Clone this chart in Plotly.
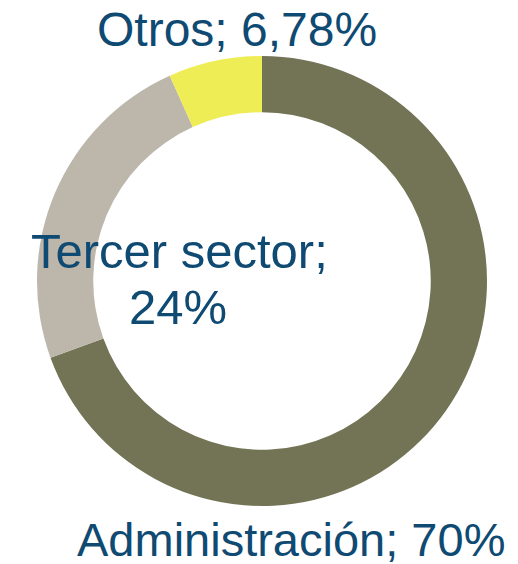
import plotly.graph_objects as go

categories = ["Administración", "Tercer sector", "Otros"]
values = [70, 24, 6.78]
value_labels = ["70%", "24%", "6,78%"]
colors = ["#727455", "#bdb6ab", "#efed55"]

# page has an 8px body margin; figure sized to fit the window exactly
OFF = 8
W, H = 518 - OFF, 564 - OFF
cx, cy, r = 262 - OFF, 281 - OFF, 225
text_color = "#0f4a72"
font_family = "Liberation Sans, Arial, sans-serif"

fig = go.Figure(go.Pie(
    labels=categories,
    values=values,
    hole=0.75,
    sort=False,
    direction="clockwise",
    rotation=0,
    textinfo="none",
    marker=dict(colors=colors, line=dict(width=0)),
    domain=dict(x=[(cx - r) / W, (cx + r) / W],
                y=[(H - cy - r) / H, (H - cy + r) / H]),
    showlegend=False,
    hoverinfo="label+percent",
))

def ann(text, x, y, size=48):
    return dict(text=text, x=(x - OFF) / W, y=1 - (y - OFF) / H,
                xref="paper", yref="paper",
                xanchor="center", yanchor="middle", showarrow=False,
                font=dict(size=size, color=text_color, family=font_family))

fig.update_layout(
    width=W, height=H,
    margin=dict(l=0, r=0, t=0, b=0),
    paper_bgcolor="white", plot_bgcolor="white",
    annotations=[
        ann(f"{categories[2]}; {value_labels[2]}", 237, 30),
        ann(f"{categories[1]};", 179, 250.5, 49),
        ann(value_labels[1], 178, 307, 49),
        ann(f"{categories[0]}; {value_labels[0]}", 291, 539, 47),
    ],
)

fig.write_html("out.html")
